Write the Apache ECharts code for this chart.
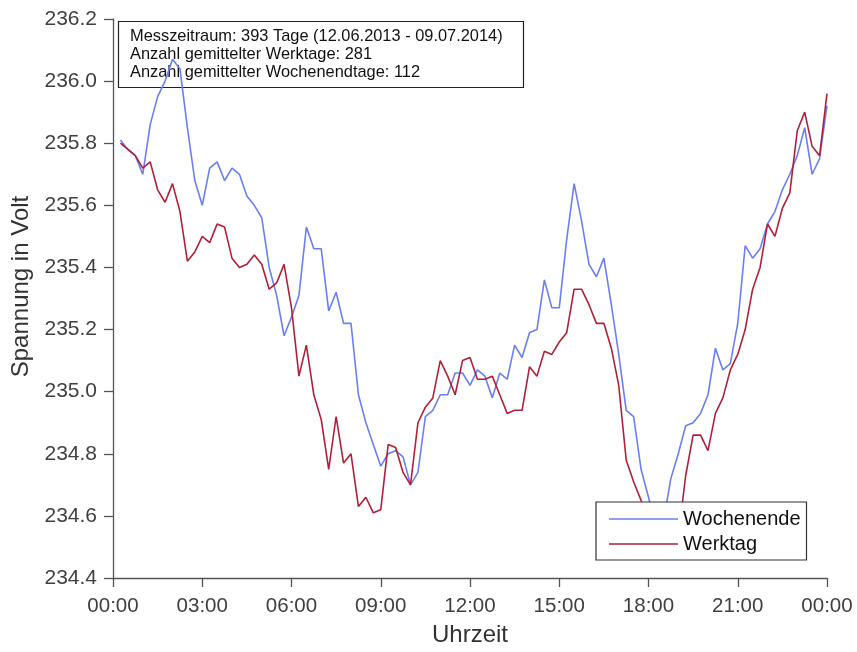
<!DOCTYPE html>
<html>
<head>
<meta charset="utf-8">
<script src="https://cdn.jsdelivr.net/npm/echarts@6/dist/echarts.min.js"></script>
<style>
  html, body { margin: 0; padding: 0; background: #fff; }
  #chart { width: 857px; height: 652px; }
</style>
</head>
<body>
<div id="chart"></div>
<script>
// Mean mains voltage per 15-minute slot (slot end times 00:15 ... 24:00)
const wochenende = [
  235.81, 235.78, 235.76, 235.70, 235.86, 235.95, 236.00, 236.07, 236.04, 235.85,
  235.68, 235.60, 235.72, 235.74, 235.68, 235.72, 235.70, 235.63, 235.60, 235.56,
  235.40, 235.31, 235.18, 235.24, 235.31, 235.53, 235.46, 235.46, 235.26, 235.32,
  235.22, 235.22, 234.99, 234.90, 234.83, 234.76, 234.80, 234.81, 234.79, 234.70,
  234.74, 234.92, 234.94, 234.99, 234.99, 235.06, 235.06, 235.02, 235.07, 235.05,
  234.98, 235.06, 235.04, 235.15, 235.11, 235.19, 235.20, 235.36, 235.27, 235.27,
  235.49, 235.67, 235.55, 235.41, 235.37, 235.43, 235.28, 235.12, 234.94, 234.92,
  234.75, 234.66, 234.57, 234.58, 234.72, 234.80, 234.89, 234.90, 234.93, 234.99,
  235.14, 235.07, 235.09, 235.22, 235.47, 235.43, 235.46, 235.54, 235.58, 235.65,
  235.70, 235.76, 235.85, 235.70, 235.75, 235.92
];
const werktag = [
  235.80, 235.78, 235.76, 235.72, 235.74, 235.65, 235.61, 235.67, 235.58, 235.42,
  235.45, 235.50, 235.48, 235.54, 235.53, 235.43, 235.40, 235.41, 235.44, 235.41,
  235.33, 235.35, 235.41, 235.27, 235.05, 235.15, 234.99, 234.91, 234.75, 234.92,
  234.77, 234.80, 234.63, 234.66, 234.61, 234.62, 234.83, 234.82, 234.74, 234.70,
  234.90, 234.95, 234.98, 235.10, 235.05, 234.99, 235.10, 235.11, 235.04, 235.04,
  235.05, 234.99, 234.93, 234.94, 234.94, 235.08, 235.05, 235.13, 235.12, 235.16,
  235.19, 235.33, 235.33, 235.28, 235.22, 235.22, 235.14, 235.02, 234.78, 234.71,
  234.65, 234.60, 234.56, 234.52, 234.50, 234.53, 234.73, 234.86, 234.86, 234.81,
  234.93, 234.98, 235.07, 235.12, 235.20, 235.33, 235.40, 235.54, 235.50, 235.59,
  235.64, 235.84, 235.90, 235.79, 235.76, 235.96
];
const seriesNames = ['Wochenende', 'Werktag'];
const timeTickLabels = ['00:00', '03:00', '06:00', '09:00', '12:00', '15:00', '18:00', '21:00', '00:00'];
const infoLines = [
  'Messzeitraum: 393 Tage (12.06.2013 - 09.07.2014)',
  'Anzahl gemittelter Werktage: 281',
  'Anzahl gemittelter Wochenendtage: 112'
];

const SLOT_MIN = 15;
const TICK_MIN = 180;
const toPairs = arr => arr.map((v, i) => [(i + 1) * SLOT_MIN, v]);

const FONT = '"Liberation Sans", Arial, Helvetica, sans-serif';
const axisColor = '#555';
const labelColor = '#404040';
const blue = '#6a7ff2';
const red = '#b21f3a';

const chart = echarts.init(document.getElementById('chart'), null, { renderer: 'canvas' });
chart.setOption({
  animation: false,
  backgroundColor: '#fff',
  textStyle: { fontFamily: FONT },
  grid: { left: 113, right: 30, top: 19, bottom: 62, containLabel: false },
  title: {
    text: infoLines.join('\n'),
    left: 118, top: 21,
    z: 0,
    padding: [6, 21, 6, 12],
    borderColor: '#222', borderWidth: 1.2,
    backgroundColor: 'transparent',
    textStyle: { fontFamily: FONT, fontSize: 16.4, fontWeight: 'normal', color: '#111', lineHeight: 18.3 }
  },
  legend: {
    orient: 'vertical',
    left: 596, top: 502,
    padding: [7, 6, 6, 13],
    itemGap: 5,
    itemWidth: 69, itemHeight: 1.6,
    icon: 'rect',
    borderColor: '#333', borderWidth: 1.2,
    backgroundColor: '#fff',
    data: seriesNames,
    textStyle: { fontFamily: FONT, fontSize: 20, color: '#111', lineHeight: 20 }
  },
  xAxis: {
    type: 'value',
    min: 0, max: 1440, interval: TICK_MIN,
    name: 'Uhrzeit',
    nameLocation: 'middle', nameGap: 45,
    nameTextStyle: { fontFamily: FONT, fontSize: 24, color: '#333' },
    splitLine: { show: false },
    axisLine: { onZero: false, lineStyle: { color: axisColor, width: 1.3 } },
    axisTick: { show: true, inside: false, length: 9, lineStyle: { color: axisColor, width: 1.3 } },
    axisLabel: {
      margin: 18, fontSize: 20.5, color: labelColor, fontFamily: FONT,
      formatter: v => timeTickLabels[Math.round(v / TICK_MIN)]
    }
  },
  yAxis: {
    type: 'value',
    min: 234.4, max: 236.2, interval: 0.2,
    name: 'Spannung in Volt',
    nameLocation: 'middle', nameGap: 78, nameRotate: 90,
    nameTextStyle: { fontFamily: FONT, fontSize: 24, color: '#333', padding: [0, 0, 0, 24] },
    splitLine: { show: false },
    axisLine: { show: true, lineStyle: { color: axisColor, width: 1.3 } },
    axisTick: { show: true, inside: false, length: 9, lineStyle: { color: axisColor, width: 1.3 } },
    axisLabel: {
      margin: 16, fontSize: 21, color: labelColor, fontFamily: FONT,
      formatter: v => v.toFixed(1)
    }
  },
  series: [
    {
      name: seriesNames[0], type: 'line', data: toPairs(wochenende),
      symbol: 'none', z: 2,
      lineStyle: { color: blue, width: 1.6 }, itemStyle: { color: blue }
    },
    {
      name: seriesNames[1], type: 'line', data: toPairs(werktag),
      symbol: 'none', z: 3,
      lineStyle: { color: red, width: 1.6 }, itemStyle: { color: red }
    }
  ]
});
</script>
</body>
</html>
